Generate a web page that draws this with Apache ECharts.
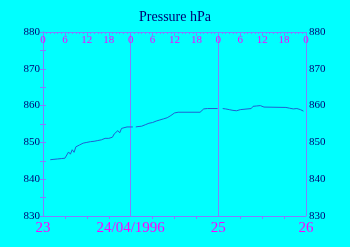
<!DOCTYPE html>
<html><head><meta charset="utf-8">
<script src="https://cdn.jsdelivr.net/npm/echarts@6/dist/echarts.min.js"></script>
<style>html,body{margin:0;padding:0;background:#00ffff;}#c{width:350px;height:247px;}</style>
</head><body><div id="c"></div>
<script>
// hours since 23/04/1996 00:00
var hours = [2,2.5,3,3.5,4,4.5,5,5.5,6,6.5,7,7.5,8,8.5,9,9.5,10,10.5,11,11.5,12,12.5,13,13.5,14,14.5,15,15.5,16,16.5,17,17.5,18,18.5,19,19.5,20,20.5,21,21.5,22,23,24,24.6,25,25.4,26,27,27.5,28,28.5,29,29.5,30,30.5,31,31.5,32,32.5,33,33.5,34,34.5,35,35.5,36,36.5,37,43,43.5,44,44.5,45,47.8,48.5,49.2,50,50.5,51,51.5,52,52.5,53,53.5,54,54.5,57,57.5,58,58.5,59,59.5,60,60.5,61,66.5,67,67.5,68,68.5,69,69.5,70,70.5,71,71.3];
var pressure = [845.3,845.7,845.4,845.9,845.5,845.8,845.6,846.1,845.7,846.0,847.4,846.8,848.0,847.3,848.8,848.4,849.3,849.0,849.8,849.5,850.0,849.7,850.2,850.0,850.3,850.1,850.5,850.4,850.7,850.6,851.1,850.9,851.1,851.2,851.4,852.3,851.8,853.2,852.6,853.8,854.2,854.2,854.2,854.2,null,854.2,854.3,854.4,854.3,854.8,854.6,855.2,855.0,855.4,855.3,855.8,855.6,856.1,855.9,856.4,856.3,856.7,856.5,857.3,857.0,858.0,857.7,858.2,858.2,858.6,859.1,858.9,859.2,859.2,null,859.2,859.1,858.6,858.9,858.4,858.7,858.3,858.6,858.4,858.9,859.2,859.2,859.8,860.1,859.9,860.3,860.0,860.2,859.6,859.5,859.5,859.1,859.3,858.8,859.1,858.9,859.2,858.7,858.9,858.5,858.5];
var dayLabels = {0:'23',24:'24/04/1996',48:'25',72:'26'};
var title = 'Pressure hPa';

var axisCol = '#8080ff';
var magenta = '#ff00ff';
var navy = '#000070';
var serif = 'Liberation Serif';

var chart = echarts.init(document.getElementById('c'), null, {renderer:'canvas'});
chart.setOption({
  backgroundColor: '#00ffff',
  animation: false,
  title: {text: title, left: 'center', top: 5, textStyle: {fontFamily: serif, fontSize: 14, fontWeight: 'normal', color: navy}},
  grid: {left: 43, right: 44, top: 32, bottom: 31},
  xAxis: [
    {type: 'value', position: 'bottom', min: 0, max: 72, interval: 24,
     axisLine: {lineStyle: {color: axisCol}},
     axisTick: {show: false},
     minorTick: {show: true, splitNumber: 4, length: 3, lineStyle: {color: axisCol}},
     splitLine: {show: true, lineStyle: {color: axisCol, width: 1}},
     axisLabel: {formatter: function(v){return dayLabels[v] || '';}, color: magenta, fontFamily: serif, fontSize: 15, margin: 5}},
    {type: 'value', position: 'top', min: 0, max: 72, interval: 6,
     axisLine: {lineStyle: {color: axisCol}},
     axisTick: {inside: true, length: 4, lineStyle: {color: axisCol}},
     minorTick: {show: true, splitNumber: 6, length: 2, lineStyle: {color: axisCol}},
     splitLine: {show: false},
     axisLabel: {inside: true, formatter: function(v){return String(v % 24);}, color: magenta, fontFamily: serif, fontSize: 11, margin: 3}}
  ],
  yAxis: [
    {type: 'value', position: 'left', min: 830, max: 880, interval: 10,
     axisLine: {show: true, lineStyle: {color: axisCol}},
     axisTick: {show: true, inside: true, length: 3, lineStyle: {color: axisCol}},
     minorTick: {show: true, splitNumber: 2, length: 3, lineStyle: {color: axisCol}},
     splitLine: {show: false},
     axisLabel: {color: navy, fontFamily: serif, fontSize: 11, margin: 3}},
    {type: 'value', position: 'right', min: 830, max: 880, interval: 10,
     axisLine: {show: true, lineStyle: {color: axisCol}},
     axisTick: {show: true, inside: true, length: 3, lineStyle: {color: axisCol}},
     minorTick: {show: true, splitNumber: 2, length: 3, lineStyle: {color: axisCol}},
     splitLine: {show: false},
     axisLabel: {color: navy, fontFamily: serif, fontSize: 11, margin: 3}}
  ],
  series: [{
    type: 'line', xAxisIndex: 0, yAxisIndex: 0, showSymbol: false, symbol: 'none',
    connectNulls: false,
    lineStyle: {color: '#2060d0', width: 1},
    data: hours.map(function(h, i){ return [h, pressure[i]]; })
  }]
});
</script></body></html>
